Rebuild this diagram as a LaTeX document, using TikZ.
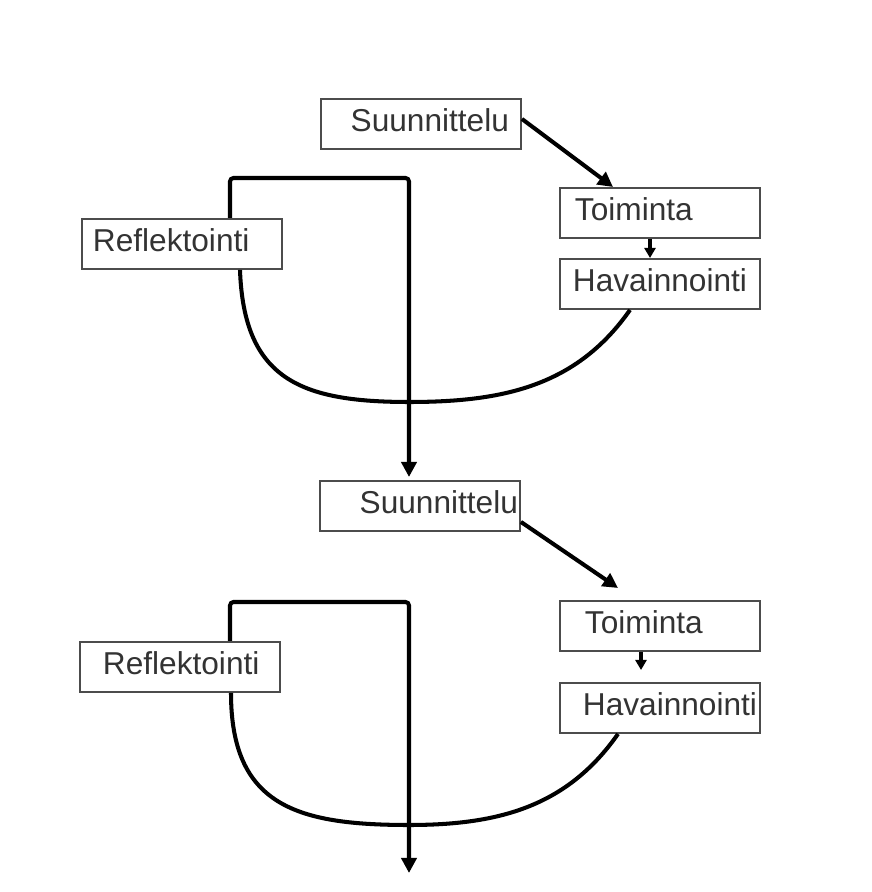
\documentclass[tikz,border=0pt]{standalone}
\usepackage{fontspec}
\setmainfont{Liberation Sans}
\usetikzlibrary{arrows.meta}
\begin{document}
\begin{tikzpicture}[
    vaihe/.style={draw=black!70, line width=1.1pt, text=black!80,
      font=\fontsize{18}{20}\selectfont, minimum height=1cm,
      inner xsep=#1, inner ysep=0pt, text width=4cm-2*#1,
      text depth=4pt, align=left, anchor=north west},
    nuoli/.style={line width=2.3pt, -{Triangle[length=0.3cm, width=0.3cm]}},
    pieni/.style={line width=2.3pt, -{Triangle[length=0.2cm, width=0.22cm]}},
    kaari/.style={line width=2.3pt}]
  \useasboundingbox (0,0) rectangle (17.44,17.84);

  \node[vaihe=0.24cm, align=right] (suun1) at (6.40,15.88) {Suunnittelu};
  \node[vaihe=0.30cm] (toim1) at (11.18,14.10) {Toiminta};
  \node[vaihe=0.26cm] (hav1) at (11.18,12.68) {Havainnointi};
  \node[vaihe=0.22cm] (ref1) at (1.62,13.48) {Reflektointi};

  \node[vaihe=0.04cm, align=right] (suun2) at (6.38,8.24) {Suunnittelu};
  \node[vaihe=0.50cm] (toim2) at (11.18,5.84) {Toiminta};
  \node[vaihe=0.46cm] (hav2) at (11.18,4.20) {Havainnointi};
  \node[vaihe=0.46cm] (ref2) at (1.58,5.02) {Reflektointi};

  \coordinate (kulma1) at (8.18,14.28);
  \coordinate (pohja1) at (8.18,9.80);
  \coordinate (kulma2) at (8.18,5.80);
  \coordinate (pohja2) at (8.18,1.34);
  \coordinate (loppu) at (8.18,0.38);

  \draw[nuoli] ([yshift=0.1cm]suun1.east) -- ([xshift=1.08cm]toim1.north west);
  \draw[pieni] ([xshift=1.82cm]toim1.south west) -- ([xshift=1.82cm]hav1.north west);
  \draw[kaari] ([xshift=3.18cm]ref1.south west) to[out=-88, in=180, looseness=1.3] (pohja1)
    to[out=0, in=235] ([xshift=1.42cm]hav1.south west);
  \draw[nuoli, rounded corners=2pt, shorten >=0.06cm] ([xshift=2.98cm]ref1.north west)
    |- (kulma1) -- (kulma1 |- suun2.north);

  \draw[nuoli] ([yshift=0.2cm]suun2.south east) -- ([xshift=1.18cm, yshift=0.24cm]toim2.north west);
  \draw[pieni, shorten >=0.24cm] ([xshift=1.64cm]toim2.south west) -- ([xshift=1.64cm]hav2.north west);
  \draw[kaari] ([xshift=3.04cm]ref2.south west) to[out=-90, in=180, looseness=1.3] (pohja2)
    to[out=0, in=235] ([xshift=1.18cm]hav2.south west);
  \draw[nuoli, rounded corners=2pt] ([xshift=3.02cm]ref2.north west) |- (kulma2) -- (loppu);
\end{tikzpicture}
\end{document}
